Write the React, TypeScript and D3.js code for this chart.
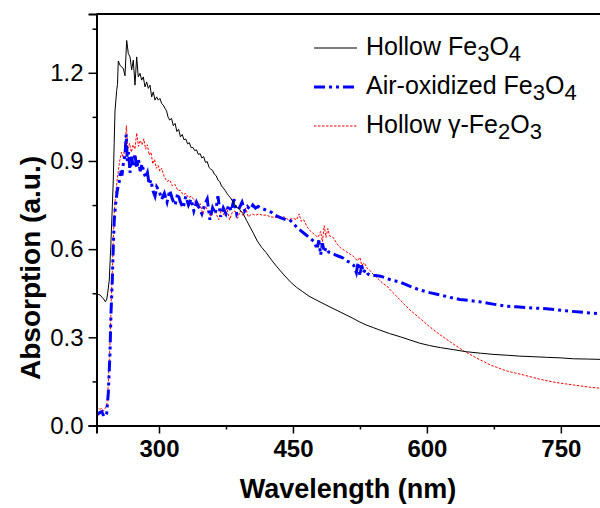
import React, { useRef, useEffect } from 'react';
import * as d3 from 'd3';

// Hollow Fe3O4 (black solid)
const hollowWl = [230, 232, 234, 236, 238, 240, 241.5, 242.5, 244.3, 246, 247.7, 248.8, 249.8, 250.7, 252.6, 253.5, 254.4, 256.3, 258, 260, 261.9, 263.8, 265.6, 267.5, 269.4, 271.2, 273.1, 275, 276.8, 278.7, 280.6, 282.4, 284.3, 286.2, 288, 289.9, 291.8, 293.6, 295.5, 297.4, 299.2, 301, 303, 304.8, 306.7, 308.5, 310, 312, 314, 316, 318, 320, 322, 324, 326, 328, 330, 332, 334, 336, 338, 340, 342, 344, 346, 348, 350, 352, 354, 356, 358, 360, 362, 364, 366, 368, 370, 372, 374, 376, 378, 380, 383, 386, 390, 394, 398, 402, 406, 410, 415, 420, 426, 432, 440, 447, 454, 461, 468, 476, 485, 495, 505, 515, 525, 532, 540, 547, 558, 570, 581, 592, 603, 615, 630, 644, 660, 674, 690, 704, 720, 734, 750, 764, 780, 794, 800];
const hollowAbs = [0.45, 0.446, 0.444, 0.437, 0.43, 0.421, 0.43, 0.45, 0.495, 0.61, 0.744, 0.835, 0.96, 1.07, 1.14, 1.16, 1.24, 1.226, 1.22, 1.215, 1.19, 1.31, 1.266, 1.254, 1.21, 1.243, 1.158, 1.254, 1.186, 1.198, 1.175, 1.186, 1.152, 1.169, 1.147, 1.158, 1.118, 1.135, 1.107, 1.118, 1.107, 1.113, 1.095, 1.09, 1.079, 1.07, 1.05, 1.039, 1.045, 1.02, 1.028, 1.0, 1.008, 0.982, 0.99, 0.972, 0.975, 0.958, 0.962, 0.945, 0.946, 0.935, 0.938, 0.922, 0.925, 0.91, 0.915, 0.895, 0.898, 0.878, 0.872, 0.868, 0.855, 0.85, 0.835, 0.83, 0.815, 0.808, 0.8, 0.79, 0.782, 0.775, 0.76, 0.746, 0.735, 0.722, 0.698, 0.675, 0.652, 0.628, 0.606, 0.588, 0.563, 0.54, 0.512, 0.489, 0.47, 0.455, 0.44, 0.427, 0.413, 0.398, 0.383, 0.368, 0.352, 0.342, 0.333, 0.325, 0.313, 0.302, 0.291, 0.28, 0.272, 0.265, 0.258, 0.251, 0.246, 0.242, 0.239, 0.236, 0.234, 0.232, 0.23, 0.227, 0.226, 0.225, 0.225];

// Air-oxidized Fe3O4 (blue dash-dot-dot)
const oxidizedWl = [230, 232, 234, 236, 238.4, 240, 241.4, 243.2, 245.1, 246.2, 247.7, 248.8, 249.9, 251.5, 253.3, 255.5, 257, 258.5, 260, 262, 263.2, 264.5, 266, 267.5, 269.4, 271, 273, 275, 277, 279, 281, 283, 285, 287, 289, 291, 293, 295.5, 297.4, 300, 303, 306, 309, 312, 315, 318, 321, 324, 327, 330, 333, 336, 339, 342, 345, 348, 351, 354, 357, 360, 363, 366, 369, 372, 375, 378, 381, 384, 387, 390, 393, 396, 399, 402, 405, 408, 411, 414, 418, 422, 426, 430, 434, 438, 442, 446, 450, 454, 458, 462, 466, 470, 474, 477, 479, 481, 483, 485, 487, 490, 494, 498, 502, 506, 510, 514, 518, 521, 523, 525, 527, 529, 531, 534, 538, 543, 548, 553, 560, 570, 580, 592, 603, 615, 626, 637, 648, 659, 674, 689, 700, 712, 723, 734, 745, 756, 771, 786, 800];
const oxidizedAbs = [0.036, 0.04, 0.045, 0.047, 0.03, 0.035, 0.041, 0.11, 0.245, 0.38, 0.495, 0.608, 0.7, 0.756, 0.8, 0.83, 0.87, 0.85, 0.89, 0.92, 0.99, 0.9, 0.93, 0.86, 0.915, 0.88, 0.925, 0.875, 0.905, 0.865, 0.89, 0.86, 0.845, 0.86, 0.82, 0.835, 0.8, 0.78, 0.812, 0.8, 0.77, 0.79, 0.76, 0.8, 0.77, 0.75, 0.79, 0.76, 0.74, 0.78, 0.75, 0.77, 0.73, 0.76, 0.74, 0.72, 0.75, 0.77, 0.7, 0.74, 0.72, 0.78, 0.71, 0.74, 0.72, 0.75, 0.73, 0.77, 0.72, 0.74, 0.76, 0.73, 0.745, 0.735, 0.75, 0.74, 0.745, 0.74, 0.735, 0.73, 0.725, 0.715, 0.71, 0.705, 0.7, 0.7, 0.69, 0.675, 0.665, 0.655, 0.645, 0.635, 0.625, 0.6, 0.63, 0.58, 0.62, 0.59, 0.605, 0.59, 0.585, 0.58, 0.575, 0.57, 0.56, 0.555, 0.545, 0.52, 0.555, 0.51, 0.545, 0.52, 0.53, 0.515, 0.51, 0.51, 0.508, 0.503, 0.495, 0.488, 0.475, 0.461, 0.452, 0.444, 0.436, 0.429, 0.425, 0.421, 0.413, 0.406, 0.404, 0.401, 0.399, 0.397, 0.394, 0.39, 0.386, 0.382, 0.378];

// Hollow gamma-Fe2O3 (red short dash)
const gammaWl = [230, 232, 234, 236, 238, 240, 241.5, 243, 245, 246.5, 248, 249, 250, 251.5, 253, 254.5, 256, 258, 260, 262, 263.5, 265, 267, 269, 271, 273, 275, 277, 279, 281, 283, 285, 287, 289, 291, 293, 295, 297, 299, 301, 303, 306, 309, 312, 315, 318, 321, 324, 327, 330, 333, 336, 340, 343, 346, 349, 352, 355, 358, 361, 364, 367, 370, 373, 376, 379, 382, 385, 388, 391, 394, 397, 400, 404, 408, 412, 416, 420, 425, 430, 435, 440, 445, 450, 454, 457, 459, 462, 466, 470, 474, 478, 481, 483, 485, 487, 489, 491, 495, 499, 503, 508, 513, 518, 522, 525, 527, 530, 533, 537, 541, 545, 550, 555, 560, 565, 570, 581, 592, 603, 615, 626, 641, 656, 671, 689, 708, 727, 745, 764, 783, 800];
const gammaAbs = [0.051, 0.058, 0.055, 0.058, 0.05, 0.06, 0.07, 0.13, 0.27, 0.42, 0.55, 0.65, 0.73, 0.79, 0.83, 0.87, 0.9, 0.93, 0.91, 0.95, 1.02, 0.94, 0.96, 0.93, 0.955, 0.94, 0.995, 0.95, 0.97, 0.955, 0.975, 0.94, 0.955, 0.92, 0.93, 0.89, 0.905, 0.875, 0.885, 0.865, 0.875, 0.845, 0.83, 0.835, 0.815, 0.82, 0.8, 0.8, 0.785, 0.79, 0.775, 0.78, 0.765, 0.74, 0.755, 0.72, 0.745, 0.73, 0.71, 0.74, 0.72, 0.7, 0.735, 0.715, 0.74, 0.7, 0.725, 0.73, 0.705, 0.73, 0.715, 0.74, 0.71, 0.72, 0.715, 0.72, 0.715, 0.716, 0.71, 0.708, 0.705, 0.71, 0.7, 0.705, 0.7, 0.72, 0.695, 0.7, 0.675, 0.66, 0.65, 0.64, 0.66, 0.625, 0.68, 0.64, 0.67, 0.645, 0.64, 0.62, 0.605, 0.595, 0.585, 0.575, 0.56, 0.572, 0.545, 0.553, 0.535, 0.525, 0.51, 0.5, 0.485, 0.475, 0.458, 0.443, 0.427, 0.393, 0.365, 0.336, 0.308, 0.285, 0.254, 0.229, 0.206, 0.186, 0.172, 0.157, 0.146, 0.138, 0.13, 0.125];

const xTicks = [300, 450, 600, 750];
const xMinorTicks = [375, 525, 675];
const yTicks = [0, 0.3, 0.6, 0.9, 1.2];
const yMinorTicks = [0.15, 0.45, 0.75, 1.05, 1.35];

const FONT = "'Liberation Sans', Arial, sans-serif";

const App = () => {
  const svgRef = useRef<SVGSVGElement>(null);

  useEffect(() => {
    const svg = d3.select(svgRef.current);
    svg.selectAll('*').remove();

    const left = 96.5;
    const right = 605.5;
    const top = 14;
    const bottom = 425.5;

    const x = d3.scaleLinear().domain([230, 800]).range([left, right]);
    const y = d3.scaleLinear().domain([0, 1.4]).range([bottom, top]);

    svg.append('defs').append('clipPath').attr('id', 'plot-clip')
      .append('rect')
      .attr('x', left).attr('y', top)
      .attr('width', right - left).attr('height', bottom - top);

    const line = d3.line<[number, number]>()
      .x(d => x(d[0]))
      .y(d => y(d[1]));

    const plot = svg.append('g').attr('clip-path', 'url(#plot-clip)');

    plot.append('path')
      .datum(d3.zip(gammaWl, gammaAbs) as [number, number][])
      .attr('fill', 'none')
      .attr('stroke', '#ff0000')
      .attr('stroke-width', 1)
      .attr('stroke-dasharray', '2.5,1.5')
      .attr('d', line);

    plot.append('path')
      .datum(d3.zip(oxidizedWl, oxidizedAbs) as [number, number][])
      .attr('fill', 'none')
      .attr('stroke', '#0000ff')
      .attr('stroke-width', 3)
      .attr('stroke-dasharray', '11,4,3,4,3,4')
      .attr('d', line);

    plot.append('path')
      .datum(d3.zip(hollowWl, hollowAbs) as [number, number][])
      .attr('fill', 'none')
      .attr('stroke', '#000')
      .attr('stroke-width', 1)
      .attr('d', line);

    // frame
    svg.append('line')
      .attr('x1', left).attr('x2', right)
      .attr('y1', top).attr('y2', top)
      .attr('stroke', '#000').attr('stroke-width', 2);

    // y axis
    const yAxis = svg.append('g').attr('transform', `translate(${left},0)`);
    yAxis.call(
      d3.axisLeft(y).tickValues(yTicks).tickSize(8).tickPadding(5)
        .tickFormat(d3.format('.1f'))
    );
    yAxis.append('g').call(
      d3.axisLeft(y).tickValues(yMinorTicks).tickSize(4).tickFormat(() => '')
    );

    // x axis
    const xAxis = svg.append('g').attr('transform', `translate(0,${bottom})`);
    xAxis.call(
      d3.axisBottom(x).tickValues(xTicks).tickSize(8).tickPadding(6)
        .tickFormat(d3.format('d'))
    );
    xAxis.append('g').call(
      d3.axisBottom(x).tickValues(xMinorTicks).tickSize(4).tickFormat(() => '')
    );

    svg.selectAll('.domain').attr('stroke-width', 2);
    svg.selectAll('.tick line').attr('stroke-width', 1.5);
    yAxis.selectAll('.tick text')
      .attr('font-family', FONT).attr('font-size', 24);
    xAxis.selectAll('.tick text')
      .attr('font-family', FONT).attr('font-size', 24).attr('font-weight', 'bold');
    svg.selectAll('.domain').filter((_, i) => i % 2 === 1).remove();

    // axis titles
    svg.append('text')
      .attr('x', 348).attr('y', 498)
      .attr('text-anchor', 'middle')
      .attr('font-family', FONT).attr('font-size', 27).attr('font-weight', 'bold')
      .text('Wavelength (nm)');

    svg.append('text')
      .attr('transform', 'translate(40,268) rotate(-90)')
      .attr('text-anchor', 'middle')
      .attr('font-family', FONT).attr('font-size', 28).attr('font-weight', 'bold')
      .text('Absorption (a.u.)');

    // legend
    const legend = svg.append('g').attr('font-family', FONT).attr('font-size', 25);
    const items = [
      { stroke: '#000', width: 1, dash: null, parts: [['Hollow Fe', 0], ['3', 1], ['O', 0], ['4', 1]] },
      { stroke: '#0000ff', width: 3, dash: '11,4,3,4,3,4', parts: [['Air-oxidized Fe', 0], ['3', 1], ['O', 0], ['4', 1]] },
      { stroke: '#ff0000', width: 1, dash: '2.5,1.5', parts: [['Hollow γ-Fe', 0], ['2', 1], ['O', 0], ['3', 1]] },
    ];
    items.forEach((item, i) => {
      const base = 55 + i * 39;
      legend.append('line')
        .attr('x1', 314).attr('x2', 357)
        .attr('y1', base - 7).attr('y2', base - 7)
        .attr('stroke', item.stroke)
        .attr('stroke-width', item.width)
        .attr('stroke-dasharray', item.dash);
      const t = legend.append('text').attr('x', 366).attr('y', base);
      let prevSub = 0;
      item.parts.forEach(([s, sub]) => {
        const dy = ((sub as number) - prevSub) * 6;
        prevSub = sub as number;
        t.append('tspan')
          .attr('dy', dy)
          .attr('font-size', sub ? 22 : 25)
          .text(s as string);
      });
    });
  }, []);

  return (
    <svg
      ref={svgRef}
      width={600}
      height={508}
      style={{ position: 'absolute', left: 0, top: 0, background: '#fff' }}
    />
  );
};

export default App;
